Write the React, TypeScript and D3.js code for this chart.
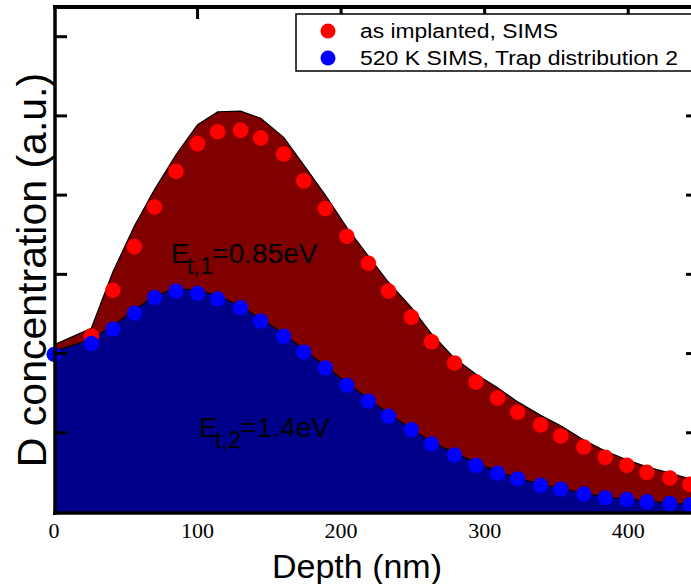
import React from "react";
import * as d3 from "d3";

// ---- data (depth in nm, concentration in a.u.) ----
const depthRed = [26, 41, 56, 70, 85, 100, 114, 130, 144, 160, 174, 189, 204, 219, 233, 249, 263, 279, 294, 309, 323, 339, 353, 369, 384, 399, 413, 429, 443];
const simsImplanted = [2.22, 2.8, 3.35, 3.85, 4.3, 4.65, 4.8, 4.82, 4.72, 4.52, 4.18, 3.83, 3.48, 3.14, 2.79, 2.46, 2.15, 1.88, 1.64, 1.44, 1.26, 1.1, 0.96, 0.82, 0.69, 0.59, 0.5, 0.43, 0.35];

const depthBlue = [0, 26, 41, 56, 70, 85, 100, 114, 130, 144, 160, 174, 189, 204, 219, 233, 249, 263, 279, 294, 309, 323, 339, 353, 369, 384, 399, 413, 429, 443];
const sims520K = [1.99, 2.13, 2.31, 2.51, 2.71, 2.79, 2.76, 2.69, 2.58, 2.41, 2.22, 2.02, 1.82, 1.6, 1.4, 1.21, 1.04, 0.86, 0.72, 0.59, 0.49, 0.42, 0.34, 0.29, 0.23, 0.18, 0.16, 0.13, 0.11, 0.09];

const depthModel = [0, 26, 41, 56, 70, 85, 100, 114, 130, 144, 160, 174, 189, 204, 219, 233, 249, 263, 279, 294, 309, 323, 339, 353, 369, 384, 399, 413, 429, 443, 450];
const modelTrap1 = [2.11, 2.32, 3.03, 3.61, 4.07, 4.51, 4.89, 5.05, 5.06, 4.97, 4.73, 4.38, 4.0, 3.59, 3.23, 2.9, 2.58, 2.25, 1.94, 1.74, 1.57, 1.39, 1.22, 1.09, 0.91, 0.77, 0.66, 0.57, 0.49, 0.42, 0.39];
const modelTrap2 = [2.03, 2.18, 2.35, 2.55, 2.73, 2.82, 2.8, 2.73, 2.6, 2.44, 2.25, 2.05, 1.84, 1.63, 1.43, 1.24, 1.05, 0.88, 0.75, 0.62, 0.51, 0.43, 0.35, 0.3, 0.24, 0.19, 0.16, 0.14, 0.11, 0.1, 0.09];

const xTicks = [0, 100, 200, 300, 400];
const yTicks = [1, 2, 3, 4, 5, 6];
const legendLabels = ["as implanted, SIMS", "520 K SIMS, Trap distribution 2"];
const annotations = [
  { x: 81.5, y: 3.14, sub: "t,1", rest: "=0.85eV" },
  { x: 101, y: 0.95, sub: "t,2", rest: "=1.4eV" },
];

const W = 691;
const H = 584;
const DARK_RED = "#800000";
const NAVY = "#00008b";

export default function App() {
  const x = d3.scaleLinear().domain([0, 450]).range([54, 700]);
  const y = d3.scaleLinear().domain([0, 6.4]).range([512, 5]);

  const area = d3
    .area<number>()
    .x((_, i) => x(depthModel[i]))
    .y0(y(0));
  const line = d3.line<number>().x((_, i) => x(depthModel[i])).y((d) => y(d));

  const area1 = area.y1((d) => y(d))(modelTrap1) || "";
  const area2 = area.y1((d) => y(d))(modelTrap2) || "";
  const line1 = line(modelTrap1) || "";
  const line2 = line(modelTrap2) || "";

  const font = "'Liberation Sans', Arial, Helvetica, sans-serif";
  const serif = "'Liberation Serif', 'Times New Roman', serif";

  return (
    <svg width={W} height={H} style={{ position: "absolute", left: 0, top: 0, background: "#fff" }}>
      <rect x={0} y={0} width={W} height={H} fill="#fff" />
      {/* fills */}
      <path d={area1} fill={DARK_RED} />
      <path d={line1} fill="none" stroke="#000" strokeWidth={1.2} />
      <path d={area2} fill={NAVY} />
      <path d={line2} fill="none" stroke="#000" strokeWidth={1.2} />

      {/* markers */}
      {depthRed.map((d, i) => (
        <circle key={"r" + i} cx={x(d)} cy={y(simsImplanted[i])} r={7.8} fill="#ff0000" />
      ))}
      {depthBlue.map((d, i) => (
        <circle key={"b" + i} cx={x(d)} cy={y(sims520K[i])} r={7.6} fill="#0000ff" />
      ))}

      {/* annotations */}
      {annotations.map((a, i) => (
        <text key={"a" + i} x={x(a.x)} y={y(a.y)} fontFamily={font} fontSize={28} fill="#000">
          E
          <tspan dx={-3} dy={11} fontSize={24}>{a.sub}</tspan>
          <tspan dx={-1} dy={-11} fontSize={28}>{a.rest}</tspan>
        </text>
      ))}

      {/* ticks */}
      {yTicks.map((t) => (
        <g key={"yt" + t}>
          <line x1={55} x2={67} y1={y(t)} y2={y(t)} stroke="#000" strokeWidth={3} />
          <line x1={686} x2={700} y1={y(t)} y2={y(t)} stroke="#000" strokeWidth={3} />
        </g>
      ))}
      {xTicks.filter((t) => t > 0).map((t) => (
        <line key={"xt" + t} x1={x(t)} x2={x(t)} y1={7} y2={19} stroke="#000" strokeWidth={3} />
      ))}

      {/* frame */}
      <line x1={53} x2={700} y1={7} y2={7} stroke="#000" strokeWidth={4} />
      <line x1={55} x2={55} y1={5} y2={515} stroke="#000" strokeWidth={3.5} />
      <line x1={53} x2={700} y1={513} y2={513} stroke="#000" strokeWidth={3.5} />

      {/* legend */}
      <rect x={296} y={14} width={400} height={57} fill="#fff" stroke="#000" strokeWidth={1.5} />
      {legendLabels.map((l, i) => (
        <g key={"lg" + i}>
          <circle cx={328} cy={31 + i * 27} r={7.5} fill={i === 0 ? "#ff0000" : "#0000ff"} />
          <text
            x={360}
            y={37.5 + i * 27.3}
            fontFamily={font}
            fontSize={20}
            textLength={i === 0 ? 198 : 318}
            lengthAdjust="spacingAndGlyphs"
          >
            {l}
          </text>
        </g>
      ))}

      {/* x tick labels */}
      {xTicks.map((t) => (
        <text key={"xl" + t} x={x(t)} y={538} textAnchor="middle" fontFamily={serif} fontSize={22}>
          {t}
        </text>
      ))}

      {/* axis titles */}
      <text x={357} y={578} textAnchor="middle" fontFamily={font} fontSize={34}>
        Depth (nm)
      </text>
      <text
        transform={`translate(46, 270) rotate(-90)`}
        textAnchor="middle"
        fontFamily={font}
        fontSize={41}
      >
        D concentration (a.u.)
      </text>
    </svg>
  );
}
